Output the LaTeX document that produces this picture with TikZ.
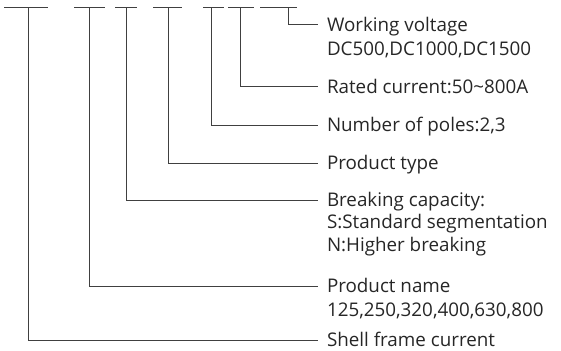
\documentclass[tikz,border=0pt]{standalone}
\usepackage{fontspec}
\setmainfont{Open Sans}
\usetikzlibrary{positioning}
\definecolor{linegray}{RGB}{64,64,64}
\definecolor{textgray}{RGB}{38,38,38}
\tikzset{
  codebar/.style={draw=linegray,line width=1pt},
  leader/.style={draw=linegray,line width=1pt},
  desc/.style={anchor=west,inner xsep=0pt,outer xsep=9pt,inner ysep=0pt,
    text height=15.5pt,text depth=2.3pt,text=textgray,
    font=\fontsize{18.8}{22}\selectfont},
}

\begin{document}
\begin{tikzpicture}[x=1pt,y=-1pt,node distance=6pt]
  \useasboundingbox (0,0) rectangle (561,350);
  % code underlines
  \foreach \a/\b in {4/48,74/105,115/137,153/182,203/224,228/254,260/297}
    \draw[codebar] (\a,8) -- (\b,8);
  \coordinate (frame) at (28,8);
  \coordinate (pname) at (89,8);
  \coordinate (brk) at (126,8);
  \coordinate (ptype) at (168,8);
  \coordinate (poles) at (211,8);
  \coordinate (rated) at (240,8);
  \coordinate (volt) at (288,8);
  % descriptions
  \node[desc] (voltlbl) at (318,25) {Working voltage};
  \node[desc,below=of voltlbl.south west,anchor=north west] (voltval) {DC500,DC1000,DC1500};
  \node[desc] (ratedlbl) at (318,87) {Rated current:50\char"7E 800A};
  \node[desc] (poleslbl) at (318,125) {Number of poles:2,3};
  \node[desc] (typelbl) at (318,163) {Product type};
  \node[desc] (brklbl) at (318,200) {Breaking capacity:};
  \node[desc,below=4pt of brklbl.south west,anchor=north west] (brks) {S:Standard segmentation};
  \node[desc,below=4pt of brks.south west,anchor=north west] (brkn) {N:Higher breaking};
  \node[desc] (namelbl) at (318,286) {Product name};
  \node[desc,below=of namelbl.south west,anchor=north west] (nameval) {125,250,320,400,630,800};
  \node[desc] (framelbl) at (318,340) {Shell frame current};
  % leaders
  \draw[leader] (volt) |- (voltlbl.west);
  \draw[leader] (rated) |- (ratedlbl.west);
  \draw[leader] (poles) |- (poleslbl.west);
  \draw[leader] (ptype) |- (typelbl.west);
  \draw[leader] (brk) |- (brklbl.west);
  \draw[leader] (pname) |- (namelbl.west);
  \draw[leader] (frame) |- (framelbl.west);
\end{tikzpicture}
\end{document}
